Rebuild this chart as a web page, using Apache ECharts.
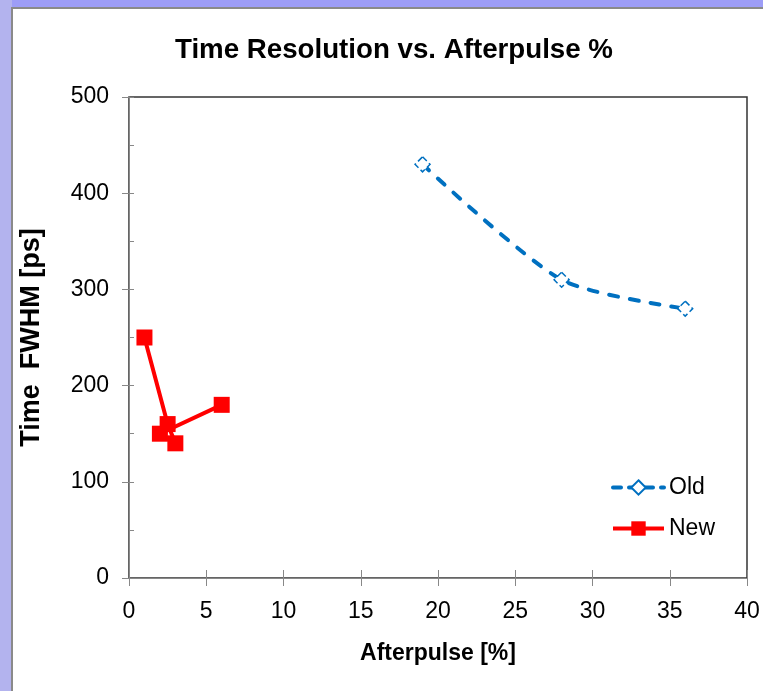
<!DOCTYPE html>
<html>
<head>
<meta charset="utf-8">
<script src="https://cdn.jsdelivr.net/npm/echarts@6/dist/echarts.min.js"></script>
<style>
  html, body { margin: 0; padding: 0; background: #ffffff; }
  #chart { width: 763px; height: 691px; }
</style>
</head>
<body>
<div id="chart"></div>
<script>
// data
const oldAfterpulse = [19, 28, 36]
const oldFwhm = [430, 310, 280]
const newAfterpulse = [1, 2.5, 3, 2, 6]
const newFwhm = [250, 160, 140, 150, 180]
const xTicks = [0, 5, 10, 15, 20, 25, 30, 35, 40]
const yTicks = [0, 100, 200, 300, 400, 500]

const font = '"Liberation Sans", Arial, sans-serif'

const chart = echarts.init(document.getElementById('chart'))

const option = {
  animation: false,
  backgroundColor: '#ffffff',
  // lavender slide frame round the white panel
  graphic: [
    { type: 'rect', z: -10, shape: { x: 0, y: 0, width: 763, height: 9 }, style: { fill: '#9d9df7' } },
    { type: 'rect', z: -10, shape: { x: 0, y: 0, width: 12, height: 691 }, style: { fill: '#b3b3ee' } },
    { type: 'rect', z: -9, shape: { x: 12, y: 8, width: 760, height: 700 }, style: { fill: 'none', stroke: '#8a8a8a', lineWidth: 2 } }
  ],
  title: {
    text: 'Time Resolution vs. Afterpulse %',
    left: 170,
    top: 31,
    textStyle: { fontFamily: font, fontSize: 27.7, fontWeight: 'bold', color: '#000' }
  },
  legend: {
    orient: 'vertical',
    left: 606,
    top: 471,
    itemWidth: 51,
    itemHeight: 18,
    itemGap: 18,
    textStyle: { fontFamily: font, fontSize: 23, color: '#000' },
    data: [
      { name: 'Old', lineStyle: { width: 4, type: [8, 8] } },
      { name: 'New', lineStyle: { width: 4 } }
    ]
  },
  grid: {
    left: 129, right: 16, top: 97, bottom: 113,
    show: true,
    borderColor: '#333',
    borderWidth: 1.5
  },
  xAxis: [
    {
      type: 'value',
      min: xTicks[0],
      max: xTicks[xTicks.length - 1],
      interval: xTicks[1] - xTicks[0],
      name: 'Afterpulse [%]',
      nameLocation: 'middle',
      nameGap: 64,
      nameTextStyle: { fontFamily: font, fontSize: 23, fontWeight: 'bold', color: '#000' },
      splitLine: { show: false },
      axisLine: { lineStyle: { color: '#888', width: 1 } },
      axisTick: { length: 8, lineStyle: { color: '#888' } },
      axisLabel: { margin: 22, fontFamily: font, fontSize: 23, color: '#000' }
    },
    {
      // inner half of the crossing ticks
      type: 'value',
      position: 'bottom',
      min: xTicks[0],
      max: xTicks[xTicks.length - 1],
      interval: xTicks[1] - xTicks[0],
      splitLine: { show: false },
      axisLine: { show: false },
      axisTick: { inside: true, length: 8, lineStyle: { color: '#888' } },
      axisLabel: { show: false }
    }
  ],
  yAxis: [
    {
      type: 'value',
      min: yTicks[0],
      max: yTicks[yTicks.length - 1],
      interval: yTicks[1] - yTicks[0],
      name: 'Time  FWHM [ps]',
      nameLocation: 'middle',
      nameGap: 84,
      nameTextStyle: { fontFamily: font, fontSize: 27, fontWeight: 'bold', color: '#000' },
      splitLine: { show: false },
      axisLine: { lineStyle: { color: '#888', width: 1 } },
      axisTick: { length: 7, lineStyle: { color: '#888' } },
      axisLabel: { margin: 20, fontFamily: font, fontSize: 23, color: '#000' }
    },
    {
      // minor ticks at 50, inside
      type: 'value',
      position: 'left',
      min: yTicks[0],
      max: yTicks[yTicks.length - 1],
      interval: (yTicks[1] - yTicks[0]) / 2,
      splitLine: { show: false },
      axisLine: { show: false },
      axisTick: { inside: true, length: 5, lineStyle: { color: '#888' } },
      axisLabel: { show: false }
    }
  ],
  series: [
    {
      name: 'Old',
      type: 'line',
      smooth: 0.25,
      data: oldAfterpulse.map((x, i) => [x, oldFwhm[i]]),
      symbol: 'diamond',
      symbolSize: 15,
      lineStyle: { color: '#0070c0', width: 4, type: [9, 12], cap: 'round' },
      itemStyle: { color: '#ffffff', borderColor: '#0070c0', borderWidth: 1.5, borderType: 'dashed' }
    },
    {
      name: 'New',
      type: 'line',
      data: newAfterpulse.map((x, i) => [x, newFwhm[i]]),
      symbol: 'rect',
      symbolSize: 16,
      lineStyle: { color: '#ff0000', width: 4 },
      itemStyle: { color: '#ff0000' }
    }
  ]
}

chart.setOption(option)
</script>
</body>
</html>
